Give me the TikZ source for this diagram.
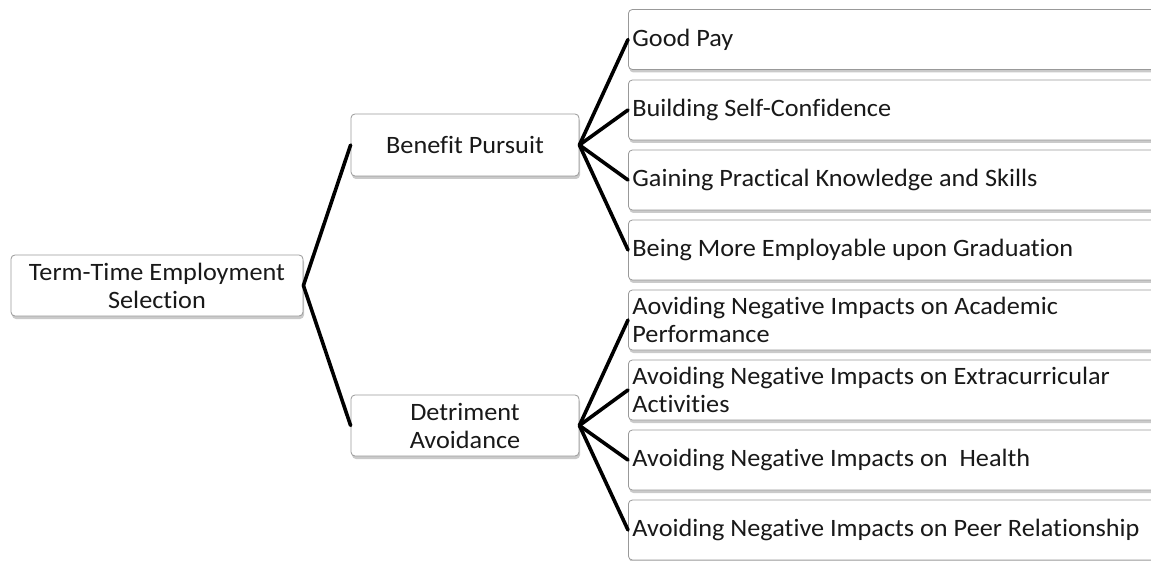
\documentclass[tikz,border=0pt]{standalone}
\usepackage{fontspec}
\setmainfont[Ligatures=NoCommon, FakeStretch=1.05]{Carlito}
\usetikzlibrary{shadows}
\begin{document}
\begin{tikzpicture}[x=1pt,y=-1pt,
  box/.style={draw=black!40, line width=0.8pt, fill=white, rounded corners=4pt,
    drop shadow={shadow xshift=1pt, shadow yshift=-3pt, opacity=0.35, fill=black!60},
    font=\fontsize{25}{28}\selectfont, text=black!90, inner sep=0pt},
  ctr/.style={box, align=flush center},
  leaf/.style={box, anchor=west, minimum width=560pt, minimum height=60pt, text width=552pt, align=flush left, inner xsep=4pt},
  conn/.style={line width=3.6pt, line cap=round, black}]
\useasboundingbox (0,0) rectangle (1151,561);
\clip (0,0) rectangle (1151,561);
\node[ctr, minimum width=292pt, minimum height=61pt] (root) at (157,285.5) {Term-Time Employment\\Selection};
\node[ctr, minimum width=228pt, minimum height=62pt] (bp) at (465,145) {Benefit Pursuit};
\node[ctr, minimum width=228pt, minimum height=61pt] (da) at (465,425.5) {Detriment\\Avoidance};
\node[leaf] (l1) at (628,39.5) {Good Pay};
\node[leaf] (l2) at (628,110) {Building Self-Confidence};
\node[leaf] (l3) at (628,180) {Gaining Practical Knowledge and Skills};
\node[leaf] (l4) at (628,250) {Being More Employable upon Graduation};
\node[leaf] (l5) at (628,320) {Aoviding Negative Impacts on Academic\\Performance};
\node[leaf] (l6) at (628,390) {Avoiding Negative Impacts on Extracurricular\\Activities};
\node[leaf] (l7) at (628,460) {Avoiding Negative Impacts on\ \ Health};
\node[leaf] (l8) at (628,530) {Avoiding Negative Impacts on Peer Relationship};
\draw[conn] (root.east) -- (bp.west);
\draw[conn] (root.east) -- (da.west);
\foreach \n in {l1,l2,l3,l4} \draw[conn] (bp.east) -- (\n.west);
\foreach \n in {l5,l6,l7,l8} \draw[conn] (da.east) -- (\n.west);
\end{tikzpicture}
\end{document}
